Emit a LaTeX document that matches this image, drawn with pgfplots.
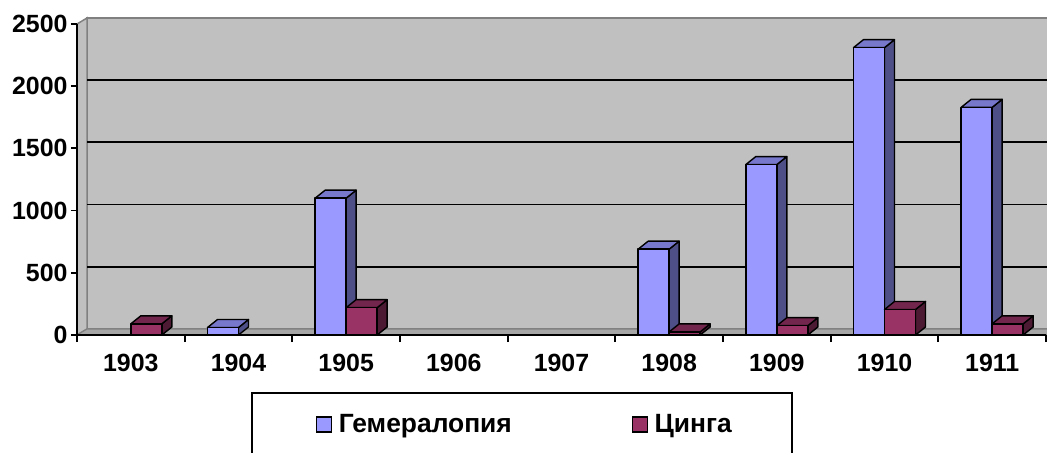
\documentclass[border=0pt]{standalone}
\usepackage{pgfplots}
\pgfplotsset{compat=1.18}
\usepackage{pgfplotstable}
\usepackage{fontspec}
\setmainfont{Liberation Sans}
\definecolor{gemfront}{HTML}{9999FF}
\definecolor{gemside}{HTML}{4F4F87}
\definecolor{gemtop}{HTML}{7777CC}
\definecolor{cinfront}{HTML}{993366}
\definecolor{cinside}{HTML}{4D1A33}
\definecolor{cintop}{HTML}{73264D}
\definecolor{wall}{HTML}{C0C0C0}
\definecolor{wallline}{HTML}{808080}
\definecolor{floorc}{HTML}{A6A6A6}

% Гемералопия: category index (0 = 1903) and value
\pgfplotstableread{
i g
1 60
2 1100
5 690
6 1370
7 2310
8 1830
}\gemtable
% Цинга
\pgfplotstableread{
i c
0 90
2 220
5 25
6 75
7 205
8 90
}\cintable

\def\cw{15.5bp}\def\ddx{10bp}\def\ddy{8bp}
\newcommand\cubemark[3]{%
  \pgfsetlinewidth{1.4bp}\pgfsetstrokecolor{black}\pgfsetroundjoin
  \pgfpathmoveto{\pgfpoint{\cw}{-\barh bp}}%
  \pgfpathlineto{\pgfpoint{\cw+\ddx}{-\barh bp+\ddy}}%
  \pgfpathlineto{\pgfpoint{\cw+\ddx}{\ddy}}%
  \pgfpathlineto{\pgfpoint{\cw}{0bp}}%
  \pgfpathclose
  \pgfsetfillcolor{#2}\pgfusepath{fill,stroke}%
  \pgfpathmoveto{\pgfpoint{-\cw}{0bp}}%
  \pgfpathlineto{\pgfpoint{-\cw+\ddx}{\ddy}}%
  \pgfpathlineto{\pgfpoint{\cw+\ddx}{\ddy}}%
  \pgfpathlineto{\pgfpoint{\cw}{0bp}}%
  \pgfpathclose
  \pgfsetfillcolor{#3}\pgfusepath{fill,stroke}%
  \pgfpathrectanglecorners{\pgfpoint{-\cw}{-\barh bp}}{\pgfpoint{\cw}{0bp}}%
  \pgfsetfillcolor{#1}\pgfusepath{fill,stroke}%
}
\pgfdeclareplotmark{cubegem}{\cubemark{gemfront}{gemside}{gemtop}}
\pgfdeclareplotmark{cubecin}{\cubemark{cinfront}{cinside}{cintop}}

\begin{document}
\begin{tikzpicture}
\useasboundingbox (0,0) rectangle (1047bp,453bp);
\begin{axis}[
  at={(77bp,118bp)}, anchor=south west,
  scale only axis, width=969bp, height=311bp,
  xmin=-0.5, xmax=8.5, ymin=0, ymax=2500,
  clip=false, axis on top,
  axis x line*=bottom, axis y line*=left,
  axis line style={black, line width=1.8bp},
  tick align=outside,
  xtick={0,...,8},
  xticklabels={1903,1904,1905,1906,1907,1908,1909,1910,1911},
  major x tick style={draw=none},
  minor xtick={-0.5,0.5,...,8.5},
  minor tick length=7bp,
  minor x tick style={black, line width=1.8bp},
  ytick={0,500,...,2500},
  major tick length=6bp,
  major y tick style={black, line width=1.8bp},
  /pgf/number format/assume math mode=true,
  /pgf/number format/1000 sep={},
  tick label style={font=\bfseries\fontsize{25}{29}\selectfont},
  xticklabel style={yshift=-10bp},
  legend columns=2,
  legend cell align=left,
  legend style={draw=none, fill=none, at={(axis description cs:0.2464,-0.2878)},
    anchor=west, inner sep=0pt, font=\bfseries\fontsize{26.5}{30}\selectfont,
    /tikz/every even column/.append style={column sep=118bp}},
]
% walls and floor
\fill[wall, draw=wallline, line width=1.5bp] ([shift={(10bp,6bp)}]axis cs:-0.5,0) rectangle ([shift={(10bp,6bp)}]axis cs:8.5,2500);
\fill[wall, draw=wallline, line width=1.5bp] (axis cs:-0.5,0) -- ([shift={(10bp,6bp)}]axis cs:-0.5,0) -- ([shift={(10bp,6bp)}]axis cs:-0.5,2500) -- (axis cs:-0.5,2500) -- cycle;
\fill[floorc, draw=wallline, line width=1.2bp] (axis cs:-0.5,0) -- ([shift={(10bp,6bp)}]axis cs:-0.5,0) -- ([shift={(10bp,6bp)}]axis cs:8.5,0) -- (axis cs:8.5,0) -- cycle;
\pgfplotsinvokeforeach{500,1000,1500,2000}{
  \draw[black, line width=1.8bp] ([shift={(10bp,6bp)}]axis cs:-0.5,#1) -- ([shift={(10bp,6bp)}]axis cs:8.5,#1);
}
\addplot[scatter, only marks, mark=cubegem,
  scatter/use mapped color={draw=black, fill=black},
  visualization depends on={\thisrow{g}*311/2500 \as \barh},
  legend image code/.code={\draw[fill=gemfront, draw=black, line width=1.2bp] (0bp,-7.5bp) rectangle (15bp,7.5bp); \path (20bp,0bp);}]
  table[x expr=\thisrow{i}-0.144, y=g] {\gemtable};
\addlegendentry{Гемералопия}
\addplot[scatter, only marks, mark=cubecin,
  scatter/use mapped color={draw=black, fill=black},
  visualization depends on={\thisrow{c}*311/2500 \as \barh},
  legend image code/.code={\draw[fill=cinfront, draw=black, line width=1.2bp] (0bp,-7.5bp) rectangle (15bp,7.5bp); \path (20bp,0bp);}]
  table[x expr=\thisrow{i}+0.144, y=c] {\cintable};
\addlegendentry{Цинга}
\end{axis}
\draw[black, line width=1.5bp] (252bp,60bp) rectangle (792bp,-20bp);
\end{tikzpicture}
\end{document}
